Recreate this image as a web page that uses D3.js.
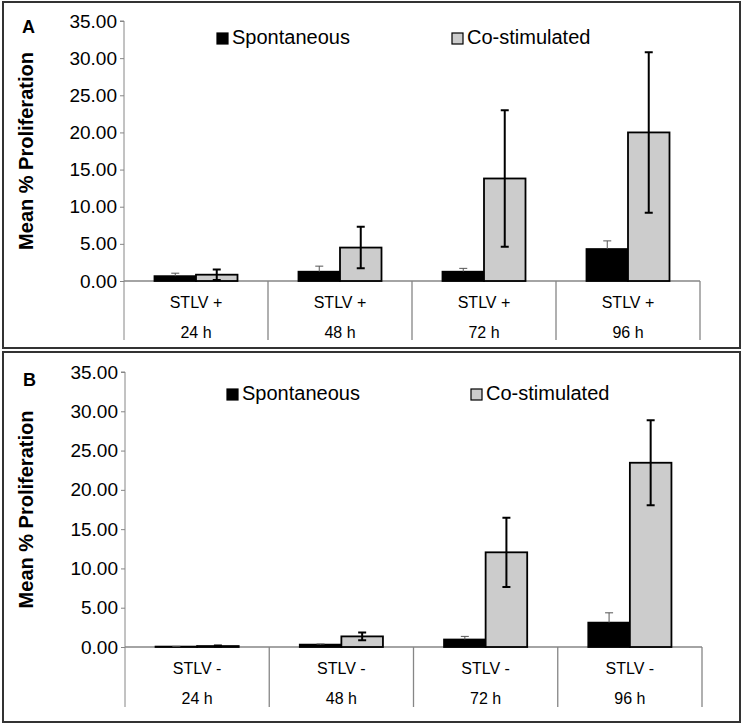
<!DOCTYPE html>
<html>
<head>
<meta charset="utf-8">
<script src="https://cdn.jsdelivr.net/npm/d3@7.9.0/dist/d3.min.js"></script>
<style>
  body { margin: 0; background: #fff; }
  svg text { font-family: "Liberation Sans", Arial, sans-serif; fill: #000; }
</style>
</head>
<body>
<svg id="chart" width="743" height="726"></svg>
<script>
// ---- data ----
const timeLabels = ["24 h", "48 h", "72 h", "96 h"];
const groupLabelsA = ["STLV +", "STLV +", "STLV +", "STLV +"];
const groupLabelsB = ["STLV -", "STLV -", "STLV -", "STLV -"];
const seriesNames = ["Spontaneous", "Co-stimulated"];
const yTicks = [0, 5, 10, 15, 20, 25, 30, 35];

const spontA = [0.65, 1.25, 1.25, 4.3];
const spontErrA = [0.4, 0.75, 0.45, 1.1];
const coA = [0.85, 4.5, 13.8, 20.0];
const coErrA = [0.7, 2.8, 9.2, 10.8];

const spontB = [0.05, 0.3, 0.95, 3.1];
const spontErrB = [0.03, 0.08, 0.4, 1.25];
const coB = [0.12, 1.35, 12.05, 23.45];
const coErrB = [0.06, 0.5, 4.4, 5.4];

const colors = { "Spontaneous": "#000000", "Co-stimulated": "#cccccc" };

const svg = d3.select("#chart");

function drawPanel(p) {
    const g = svg.append("g");

    // panel frame
    g.append("rect")
        .attr("x", p.box[0]).attr("y", p.box[1])
        .attr("width", p.box[2]).attr("height", p.box[3])
        .attr("fill", "none").attr("stroke", "#333").attr("stroke-width", 2);

    const x0 = d3.scaleBand()
        .domain(d3.range(timeLabels.length))
        .range([p.left, p.right]);

    const x1 = d3.scaleBand()
        .domain(seriesNames)
        .range([0, x0.bandwidth()])
        .paddingInner(0)
        .paddingOuter(0.735);

    const y = d3.scaleLinear().domain([0, 35]).range([p.y0, p.y35]);

    // y axis
    const yAxis = g.append("g")
        .attr("transform", `translate(${p.left},0)`)
        .call(d3.axisLeft(y).tickValues(yTicks).tickFormat(d3.format(".2f")).tickSize(4).tickPadding(3));
    yAxis.select(".domain").attr("stroke", "#868686").attr("d", `M-4,${p.y35}H0V${p.catBottom}`);
    yAxis.selectAll(".tick line").attr("stroke", "#868686");
    yAxis.selectAll(".tick text").style("font-size", "19px").attr("fill", "#000");

    // x axis baseline and separators
    g.append("line")
        .attr("x1", p.left).attr("x2", p.right)
        .attr("y1", p.y0).attr("y2", p.y0)
        .attr("stroke", "#868686").attr("stroke-width", 1.3);
    g.selectAll(".sep")
        .data(d3.range(1, timeLabels.length + 1))
        .join("line")
        .attr("x1", d => x0(d - 1) + x0.bandwidth())
        .attr("x2", d => x0(d - 1) + x0.bandwidth())
        .attr("y1", p.y0).attr("y2", p.catBottom)
        .attr("stroke", "#868686").attr("stroke-width", 1.3);

    // category labels
    g.selectAll(".grp")
        .data(p.groups)
        .join("text")
        .attr("x", (d, i) => x0(i) + x0.bandwidth() / 2)
        .attr("y", p.y0 + 27)
        .attr("text-anchor", "middle")
        .style("font-size", "16px")
        .text(d => d);
    g.selectAll(".time")
        .data(timeLabels)
        .join("text")
        .attr("x", (d, i) => x0(i) + x0.bandwidth() / 2)
        .attr("y", p.y0 + 57)
        .attr("text-anchor", "middle")
        .style("font-size", "16px")
        .text(d => d);

    const rows = timeLabels.map((t, i) => ({
        i,
        vals: [
            { s: "Spontaneous", v: p.spont[i], e: p.spontErr[i] },
            { s: "Co-stimulated", v: p.co[i], e: p.coErr[i] }
        ]
    }));

    const grp = g.selectAll(".bars")
        .data(rows)
        .join("g")
        .attr("transform", d => `translate(${x0(d.i)},0)`);

    grp.selectAll("rect")
        .data(d => d.vals)
        .join("rect")
        .attr("x", d => x1(d.s))
        .attr("y", d => y(d.v))
        .attr("width", x1.bandwidth())
        .attr("height", d => y(0) - y(d.v))
        .attr("fill", d => colors[d.s])
        .attr("stroke", "#000")
        .attr("stroke-width", 1.8);

    // error bars: spontaneous plus-only thin gray, co-stimulated both ways black
    const cap = 4;
    grp.selectAll(".err")
        .data(d => d.vals)
        .join("path")
        .attr("fill", "none")
        .attr("stroke", d => d.s === "Spontaneous" ? "#555" : "#000")
        .attr("stroke-width", d => d.s === "Spontaneous" ? 1 : 2)
        .attr("d", d => {
            const cx = x1(d.s) + x1.bandwidth() / 2;
            const top = y(d.v + d.e);
            if (d.s === "Spontaneous") {
                return `M${cx},${y(d.v)}V${top}M${cx - cap},${top}H${cx + cap}`;
            }
            const bot = y(Math.max(0, d.v - d.e));
            return `M${cx},${bot}V${top}M${cx - cap},${top}H${cx + cap}M${cx - cap},${bot}H${cx + cap}`;
        });

    // legend
    const leg = g.selectAll(".leg")
        .data(seriesNames)
        .join("g")
        .attr("transform", (d, i) => `translate(${p.legendX[i]},${p.legendY})`);
    leg.append("rect")
        .attr("x", 0).attr("y", -11)
        .attr("width", 11).attr("height", 11)
        .attr("fill", d => colors[d])
        .attr("stroke", "#000").attr("stroke-width", 1.2);
    leg.append("text")
        .attr("x", 15).attr("y", 0)
        .style("font-size", "20px")
        .text(d => d);

    // panel letter
    g.append("text")
        .attr("x", p.letterX).attr("y", p.letterY)
        .style("font-size", "18px").style("font-weight", "bold")
        .text(p.letter);

    // y title
    g.append("text")
        .attr("transform", `translate(${p.titleX},${(p.y0 + p.y35) / 2}) rotate(-90)`)
        .attr("text-anchor", "middle")
        .style("font-size", "20px").style("font-weight", "bold")
        .text("Mean % Proliferation");
}

drawPanel({
    letter: "A", letterX: 22, letterY: 33,
    box: [3, 2, 737, 346],
    left: 124, right: 700, y0: 281, y35: 21, catBottom: 340,
    groups: groupLabelsA,
    spont: spontA, spontErr: spontErrA, co: coA, coErr: coErrA,
    legendX: [217, 452], legendY: 44, titleX: 33
});

drawPanel({
    letter: "B", letterX: 23, letterY: 386,
    box: [3, 352, 737, 370],
    left: 125, right: 702, y0: 647, y35: 372, catBottom: 707,
    groups: groupLabelsB,
    spont: spontB, spontErr: spontErrB, co: coB, coErr: coErrB,
    legendX: [227, 471], legendY: 400, titleX: 33
});
</script>
</body>
</html>
